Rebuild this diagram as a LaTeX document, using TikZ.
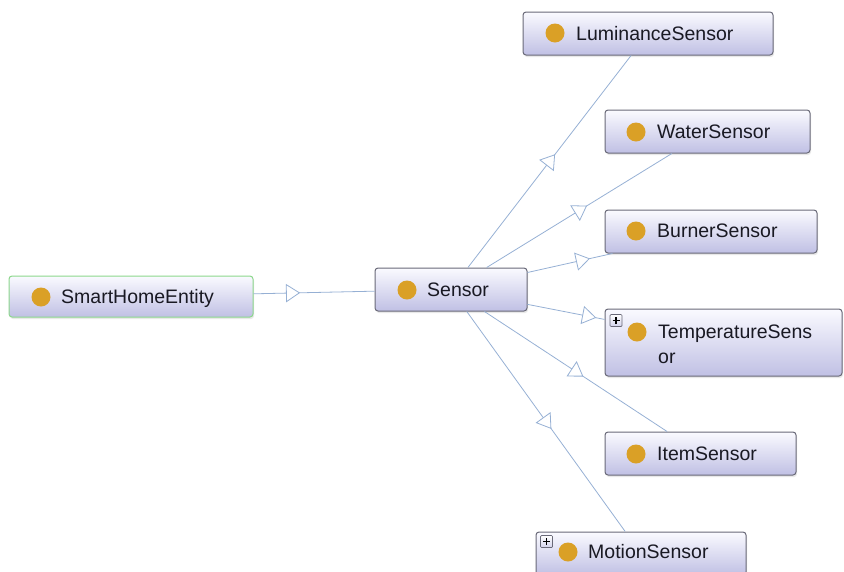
\documentclass[tikz,border=0pt]{standalone}
\usepackage{fontspec}
\setmainfont{Liberation Sans}
\usetikzlibrary{shapes.geometric,shadows}
\usepackage{xcolor}

\definecolor{edgeblue}{RGB}{150,176,212}
\definecolor{boxline}{RGB}{105,105,120}
\definecolor{boxtop}{RGB}{250,250,255}
\definecolor{boxbot}{RGB}{192,192,228}
\definecolor{dotgold}{RGB}{218,160,38}
\definecolor{rootgreen}{RGB}{140,215,140}
\definecolor{txtgray}{RGB}{25,25,35}

\tikzset{
  cls/.style={draw=boxline, line width=1pt, rounded corners=3pt, top color=boxtop, bottom color=boxbot, inner sep=0pt,
    drop shadow={opacity=0.18, shadow xshift=1pt, shadow yshift=-2pt}},
  dot/.style={fill=dotgold},
  lbl/.style={anchor=base west, inner sep=0pt, text=txtgray, font=\fontsize{19.5}{25}\selectfont},
  edge/.style={draw=edgeblue, line width=0.8pt},
  tri/.style={isosceles triangle, isosceles triangle stretches, draw=edgeblue, fill=white, line width=0.8pt, minimum width=17pt, minimum height=13pt, inner sep=0pt, sloped, allow upside down, midway},
  plusbox/.style={draw=boxline, line width=0.7pt, top color=white, bottom color=boxbot!70, minimum size=12pt, inner sep=0pt, rounded corners=1pt},
  plusbar/.style={line width=1.3pt, black}
}

\begin{document}
\begin{tikzpicture}[x=1pt, y=-1pt]
\useasboundingbox (0,0) rectangle (844,571);

% class boxes
\node[cls, draw=rootgreen, minimum width=244pt, minimum height=41pt] (smart) at (131,296.5) {};
\node[cls, minimum width=152pt, minimum height=43pt] (sensor) at (451,289.5) {};
\node[cls, minimum width=250pt, minimum height=43pt] (lum) at (648,33.5) {};
\node[cls, minimum width=205pt, minimum height=43pt] (water) at (707.5,131.5) {};
\node[cls, minimum width=212pt, minimum height=43pt] (burner) at (711,231.5) {};
\node[cls, minimum width=237pt, minimum height=67pt] (temp) at (723.5,342.5) {};
\node[cls, minimum width=191pt, minimum height=43pt] (item) at (700.5,453.5) {};
\node[cls, minimum width=210pt, minimum height=43pt] (motion) at (641,553.5) {};

% dots and names
\fill[dot] (41,297) circle (9.5pt);
\node[lbl] (smart-lbl) at (61,303) {SmartHomeEntity};
\fill[dot] (407,290) circle (9.5pt);
\node[lbl] (sensor-lbl) at (427,296) {Sensor};
\fill[dot] (555,33) circle (9.5pt);
\node[lbl] (lum-lbl) at (576,40) {LuminanceSensor};
\fill[dot] (636,132) circle (9.5pt);
\node[lbl] (water-lbl) at (657,138) {WaterSensor};
\fill[dot] (636,231) circle (9.5pt);
\node[lbl] (burner-lbl) at (657,237) {BurnerSensor};
\fill[dot] (637,332) circle (9.5pt);
\node[lbl] (temp-lbl) at (658,338) {TemperatureSens};
\node[lbl] (temp-lbl2) at (658,363) {or};
\fill[dot] (636,454) circle (9.5pt);
\node[lbl] (item-lbl) at (657,460) {ItemSensor};
\fill[dot] (568,552) circle (9.5pt);
\node[lbl] (motion-lbl) at (588,558) {MotionSensor};

% expand markers
\node[plusbox] (temp-plus) at (616,320.5) {};
\draw[plusbar] ([xshift=-3.5pt]temp-plus.center) -- ([xshift=3.5pt]temp-plus.center);
\draw[plusbar] ([yshift=-3.5pt]temp-plus.center) -- ([yshift=3.5pt]temp-plus.center);
\node[plusbox] (motion-plus) at (546.5,541.5) {};
\draw[plusbar] ([xshift=-3.5pt]motion-plus.center) -- ([xshift=3.5pt]motion-plus.center);
\draw[plusbar] ([yshift=-3.5pt]motion-plus.center) -- ([yshift=3.5pt]motion-plus.center);

% subclass links
\draw[edge] (smart) -- (sensor);
\path (smart.center) -- (sensor.center) node[tri] (t-sensor) {};
\draw[edge] (sensor) -- (lum);
\path (sensor.center) -- (lum.center) node[tri] (t-lum) {};
\draw[edge] (sensor) -- (water);
\path (sensor.center) -- (water.center) node[tri] (t-water) {};
\draw[edge] (sensor) -- (burner);
\path (sensor.center) -- (burner.center) node[tri] (t-burner) {};
\draw[edge] (sensor) -- (temp);
\path (sensor.center) -- (temp.center) node[tri] (t-temp) {};
\draw[edge] (sensor) -- (item);
\path (sensor.center) -- (item.center) node[tri] (t-item) {};
\draw[edge] (sensor) -- (motion);
\path (sensor.center) -- (motion.center) node[tri] (t-motion) {};
\end{tikzpicture}
\end{document}
